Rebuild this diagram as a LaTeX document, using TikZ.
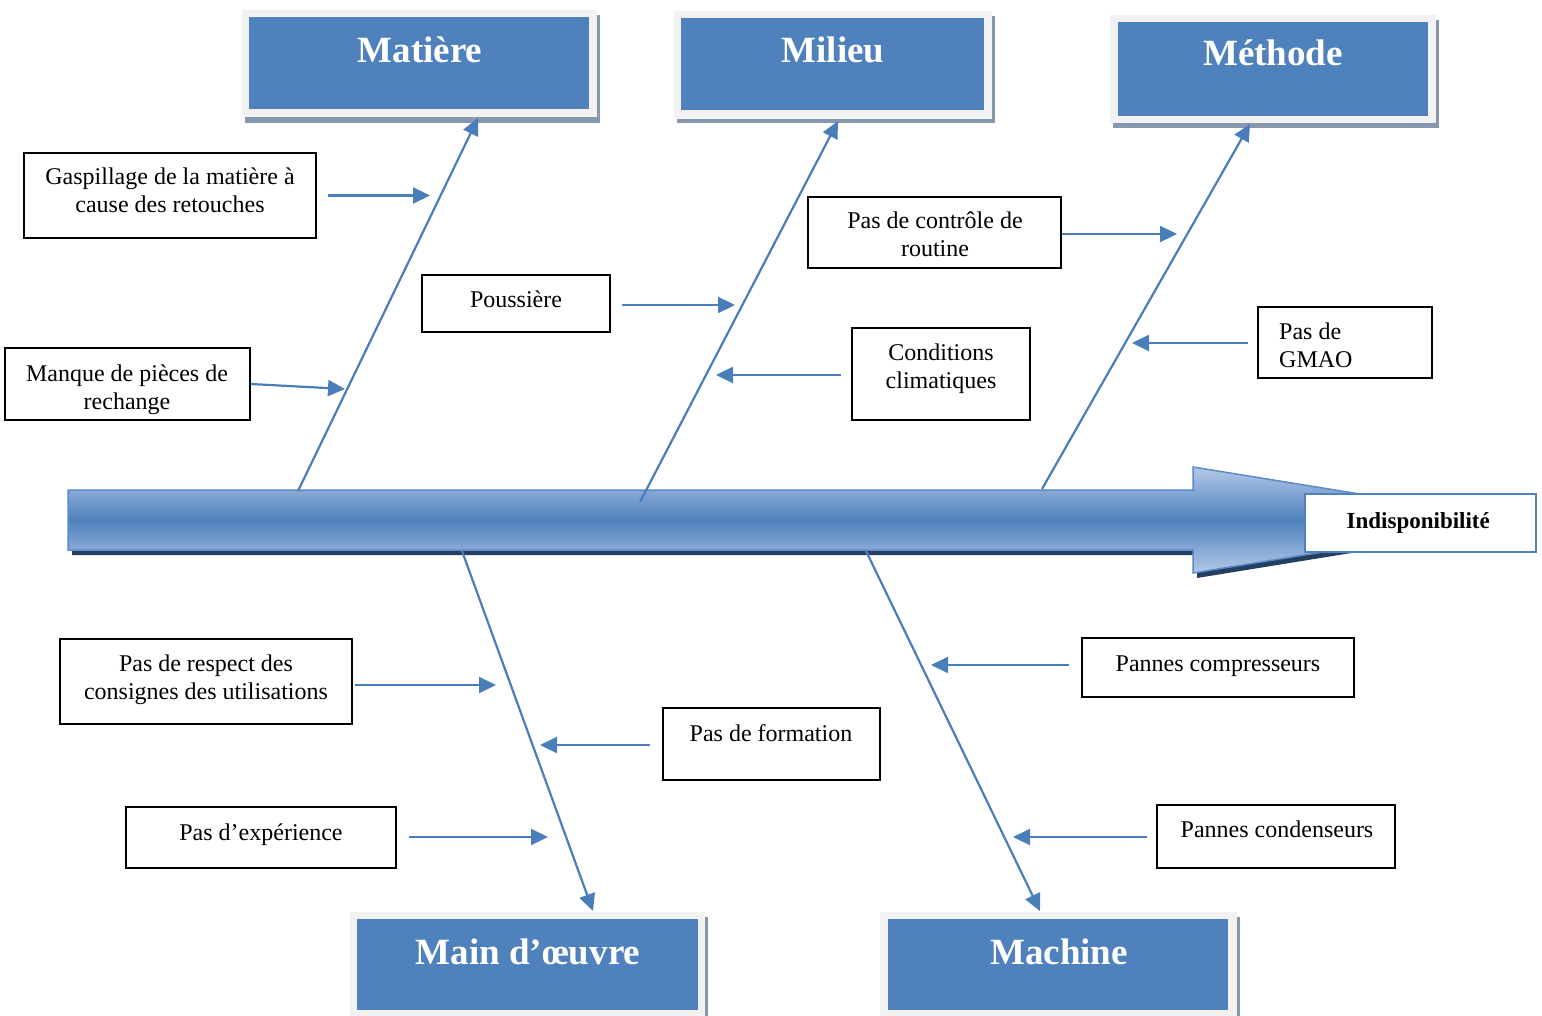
\documentclass[tikz,border=0pt]{standalone}
\usepackage{fontspec}
\setmainfont{Liberation Serif}
\usetikzlibrary{arrows.meta}
\definecolor{hdrblue}{HTML}{4F81BD}
\definecolor{lineblue}{HTML}{4A7EBB}
\definecolor{framegray}{HTML}{F2F2F2}
\definecolor{hshadow}{HTML}{8797AE}
\definecolor{navy}{HTML}{243F60}
\definecolor{spinelight}{HTML}{B4C8E8}
\definecolor{spineedge}{HTML}{5B8BC9}
\tikzset{
  box/.style={draw=black, line width=1.5pt, fill=white, inner sep=0pt},
  txt/.style={font=\fontsize{24}{28}\selectfont, align=center, anchor=base, inner sep=0pt},
  arr/.style={draw=lineblue, line width=2.2pt, -{Triangle[length=17pt,width=16pt]}},
  bone/.style={draw=lineblue, line width=2.2pt, -{Triangle[length=17pt,width=16pt]}},
  hdrframe/.style={fill=framegray, inner sep=0pt, anchor=north west},
  hdrin/.style={fill=hdrblue, inner sep=0pt, anchor=north west},
  hdrtxt/.style={font=\fontsize{37}{40}\selectfont\bfseries, text=white, anchor=base, inner sep=0pt},
}
\begin{document}
\begin{tikzpicture}[x=1pt,y=-1pt]
\useasboundingbox (0,0) rectangle (1542,1016);
% ---------------- headers ----------------
\fill[hshadow] (245,15) rectangle (600,123);
\node[hdrframe, minimum width=355pt, minimum height=107pt] (matF) at (242,10) {};
\node[hdrin, minimum width=340pt, minimum height=92pt] (mat) at (249,17) {};
\node[hdrtxt] (matT) at (420,63) {Matière};

\fill[hshadow] (677,16) rectangle (995,123);
\node[hdrframe, minimum width=318pt, minimum height=108pt] (milF) at (674,11) {};
\node[hdrin, minimum width=303pt, minimum height=92pt] (mil) at (681,18) {};
\node[hdrtxt] (milT) at (833,63) {Milieu};

\fill[hshadow] (1113,20) rectangle (1439,128);
\node[hdrframe, minimum width=326pt, minimum height=108pt] (metF) at (1110,15) {};
\node[hdrin, minimum width=310pt, minimum height=94pt] (met) at (1118,22) {};
\node[hdrtxt] (metT) at (1273,66) {Méthode};

\fill[hshadow] (353,917) rectangle (708,1020);
\node[hdrframe, minimum width=355pt, minimum height=106pt] (moF) at (350,912) {};
\node[hdrin, minimum width=341pt, minimum height=91pt] (mo) at (357,919) {};
\node[hdrtxt] (moT) at (528,964) {Main d’œuvre};

\fill[hshadow] (883,917) rectangle (1240,1020);
\node[hdrframe, minimum width=357pt, minimum height=106pt] (macF) at (880,912) {};
\node[hdrin, minimum width=340pt, minimum height=91pt] (mac) at (888,919) {};
\node[hdrtxt] (macT) at (1059,964) {Machine};

% ---------------- spine ----------------
\fill[navy] (72,495) -- (1197,495) -- (1197,472) -- (1524,525) -- (1197,578) -- (1197,555) -- (72,555) -- cycle;
\shade[top color=spinelight, bottom color=spinelight, middle color=hdrblue, draw=spineedge, line width=1.5pt]
  (68,490) -- (1193,490) -- (1193,467) -- (1520,520) -- (1193,573) -- (1193,550) -- (68,550) -- cycle;
\node[draw=hdrblue, line width=1.5pt, fill=white, minimum width=231pt, minimum height=58pt,
      anchor=north west, inner sep=0pt, font=\fontsize{23}{26}\selectfont\bfseries] (ind) at (1304,493) {\hspace*{-4pt}Indisponibilité};

% ---------------- bones ----------------
\coordinate (s1) at (298,491);
\coordinate (e1) at (478,118);
\coordinate (s2) at (640,502);
\coordinate (e2) at (838,121);
\coordinate (s3) at (1042,489);
\coordinate (e3) at (1250,124);
\coordinate (s4) at (462,551);
\coordinate (e4) at (593,911);
\coordinate (s5) at (866,551);
\coordinate (e5) at (1040,911);
\draw[bone] (s1) -- (e1);
\draw[bone] (s2) -- (e2);
\draw[bone] (s3) -- (e3);
\draw[bone] (s4) -- (e4);
\draw[bone] (s5) -- (e5);

% ---------------- cause boxes ----------------
\node[box, minimum width=292pt, minimum height=85pt] (gas) at (170,195.5) {};
\node[txt] (gasT) at (170,213) {Gaspillage de la matière à\\cause des retouches};
\node[box, minimum width=245pt, minimum height=72pt] (man) at (127.5,384) {};
\node[txt] (manT) at (127,409) {Manque de pièces de\\rechange};
\node[box, minimum width=188pt, minimum height=57pt] (pou) at (516,303.5) {};
\node[txt] (pouT) at (516,308) {Poussière};
\node[box, minimum width=178pt, minimum height=92pt] (con) at (941,374) {};
\node[txt] (conT) at (941,388) {Conditions\\climatiques};
\node[box, minimum width=253pt, minimum height=71pt] (ctl) at (934.5,232.5) {};
\node[txt] (ctlT) at (935,257) {Pas de contrôle de\\routine};
\node[box, minimum width=174pt, minimum height=71pt] (gma) at (1345,342.5) {};
\node[txt, align=left, anchor=base west] (gmaT) at (1279,367) {Pas de\\GMAO};
\node[box, minimum width=292pt, minimum height=85pt] (res) at (206,681.5) {};
\node[txt] (resT) at (206,699) {Pas de respect des\\consignes des utilisations};
\node[box, minimum width=217pt, minimum height=72pt] (for) at (771.5,744) {};
\node[txt] (forT) at (771,741) {Pas de formation};
\node[box, minimum width=270pt, minimum height=61pt] (exp) at (261,837.5) {};
\node[txt] (expT) at (261,840) {Pas d’expérience};
\node[box, minimum width=272pt, minimum height=59pt] (cmp) at (1218,667.5) {};
\node[txt] (cmpT) at (1218,671) {Pannes compresseurs};
\node[box, minimum width=238pt, minimum height=63pt] (cnd) at (1276,836.5) {};
\node[txt] (cndT) at (1277,837) {Pannes condenseurs};

% ---------------- cause arrows ----------------
\coordinate (a1) at (430,195.5);
\coordinate (a2) at (345,389);
\coordinate (a3) at (735,305);
\coordinate (a4) at (716,375);
\coordinate (a5) at (1177,234);
\coordinate (a6) at (1132,343);
\coordinate (a7) at (496,685);
\coordinate (a8) at (540,745);
\coordinate (a9) at (548,837);
\coordinate (a10) at (931,665);
\coordinate (a11) at (1013,837);
\draw[arr, shorten <=11pt] (gas.east) -- (a1);
\draw[arr] (man.east) -- (a2);
\draw[arr, shorten <=11pt] (pou.east |- a3) -- (a3);
\draw[arr, shorten <=10pt] (con.west |- a4) -- (a4);
\draw[arr] (ctl.east |- a5) -- (a5);
\draw[arr, shorten <=9pt] (gma.west |- a6) -- (a6);
\draw[arr, shorten <=2pt] (res.east |- a7) -- (a7);
\draw[arr, shorten <=12pt] (for.west |- a8) -- (a8);
\draw[arr, shorten <=12pt] (exp.east |- a9) -- (a9);
\draw[arr, shorten <=12pt] (cmp.west |- a10) -- (a10);
\draw[arr, shorten <=9pt] (cnd.west |- a11) -- (a11);
\end{tikzpicture}
\end{document}
